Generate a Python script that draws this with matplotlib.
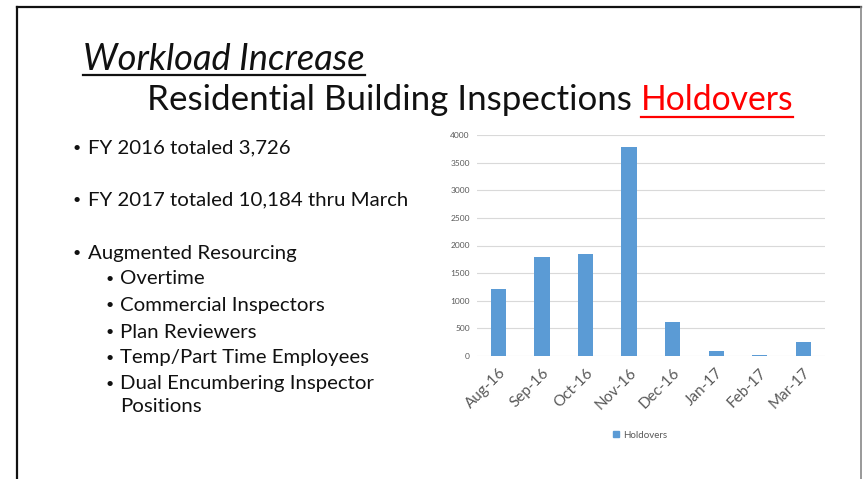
import matplotlib
matplotlib.use("Agg")
import matplotlib.pyplot as plt
from matplotlib.lines import Line2D
from matplotlib.patches import Patch

plt.rcParams['font.family'] = ['Lato', 'DejaVu Sans']

# data
months = ['Aug-16', 'Sep-16', 'Oct-16', 'Nov-16', 'Dec-16', 'Jan-17', 'Feb-17', 'Mar-17']
holdovers = [1220, 1790, 1850, 3780, 620, 90, 15, 260]
yticks = [0, 500, 1000, 1500, 2000, 2500, 3000, 3500, 4000]

bullets = ['FY 2016 totaled 3,726', 'FY 2017 totaled 10,184 thru March', 'Augmented Resourcing']
sub_bullets = ['Overtime', 'Commercial Inspectors', 'Plan Reviewers',
               'Temp/Part Time Employees', 'Dual Encumbering Inspector']

W, H = 863, 479
fig = plt.figure(figsize=(W / 100, H / 100), dpi=100)
r = fig.canvas.get_renderer()


def fx(x):
    return x / W


def fy(y):
    return 1 - y / H


def fit(t, width_px):
    w = t.get_window_extent(r).width
    t.set_fontsize(t.get_fontsize() * width_px / w)


def underline(t, y, color):
    bb = t.get_window_extent(r)
    fig.add_artist(Line2D([bb.x0 / W, bb.x1 / W], [fy(y), fy(y)], color=color, lw=1.6))


# slide frame
fig.add_artist(Line2D([fx(16.5), fx(16.5)], [0, fy(6.5)], color='#111111', lw=1.6))
fig.add_artist(Line2D([fx(16.5), fx(861)], [fy(6.5), fy(6.5)], color='#111111', lw=1.6))
fig.add_artist(Line2D([fx(861), fx(861)], [0, fy(6.5)], color='#888888', lw=1.2))

# titles
t1 = fig.text(fx(83), fy(70), 'Workload Increase', fontsize=24, style='italic',
              color='#111111', va='baseline')
fit(t1, 282)
underline(t1, 75, '#111111')

t2 = fig.text(fx(147), fy(110), 'Residential Building Inspections ', fontsize=24,
              color='#111111', va='baseline')
t3 = fig.text(fx(600), fy(110), 'Holdovers', fontsize=24, color='#ff0000', va='baseline')
for t in (t2, t3):
    t.set_fontsize(t.get_fontsize() * 651 / (t2.get_window_extent(r).width + t3.get_window_extent(r).width))
t3.set_x(t2.get_window_extent(r).x1 / W)
underline(t3, 117, '#ff0000')

# bullet list
b_ys = [148, 200, 253]
first = fig.text(fx(88), fy(b_ys[0]), bullets[0], fontsize=14, color='#111111', va='center')
fit(first, 202)
fs = first.get_fontsize()
for txt, y in zip(bullets[1:], b_ys[1:]):
    fig.text(fx(88), fy(y), txt, fontsize=fs, color='#111111', va='center')
for y in b_ys:
    fig.text(fx(77), fy(y), '•', fontsize=fs * 0.7, color='#111111', va='center', ha='center')

s_ys = [279, 305, 332, 358, 384]
for txt, y in zip(sub_bullets, s_ys):
    fig.text(fx(120), fy(y), txt, fontsize=fs, color='#111111', va='center')
    fig.text(fx(110), fy(y), '•', fontsize=fs * 0.7, color='#111111', va='center', ha='center')
fig.text(fx(120), fy(407), 'Positions', fontsize=fs, color='#111111', va='center')

# chart
ax = fig.add_axes([fx(476.7), fy(356), fx(825) - fx(476.7), fy(135) - fy(356)])
x = range(len(months))
ax.bar(x, holdovers, width=0.35, color='#5b9bd5', zorder=3)
ax.set_xlim(-0.5, len(months) - 0.5)
ax.set_ylim(0, 4000)
ax.set_yticks(yticks)
ax.set_yticklabels([str(v) for v in yticks], fontsize=6, color='#595959')
ax.set_xticks(list(x))
ax.set_xticklabels(months, rotation=45, ha='right', rotation_mode='anchor',
                   fontsize=11, color='#595959')
ax.tick_params(axis='y', length=0, pad=5)
ax.tick_params(axis='x', length=0, pad=7)
ax.grid(axis='y', color='#d9d9d9', lw=0.8, zorder=0)
for s in ax.spines.values():
    s.set_visible(False)

fig.legend(handles=[Patch(color='#5b9bd5', label='Holdovers')], loc='center',
           bbox_to_anchor=(fx(640), fy(435)), frameon=False, fontsize=7,
           labelcolor='#595959', handlelength=0.6, handleheight=0.6, handletextpad=0.4)

fig.savefig('out.png', dpi=100)
